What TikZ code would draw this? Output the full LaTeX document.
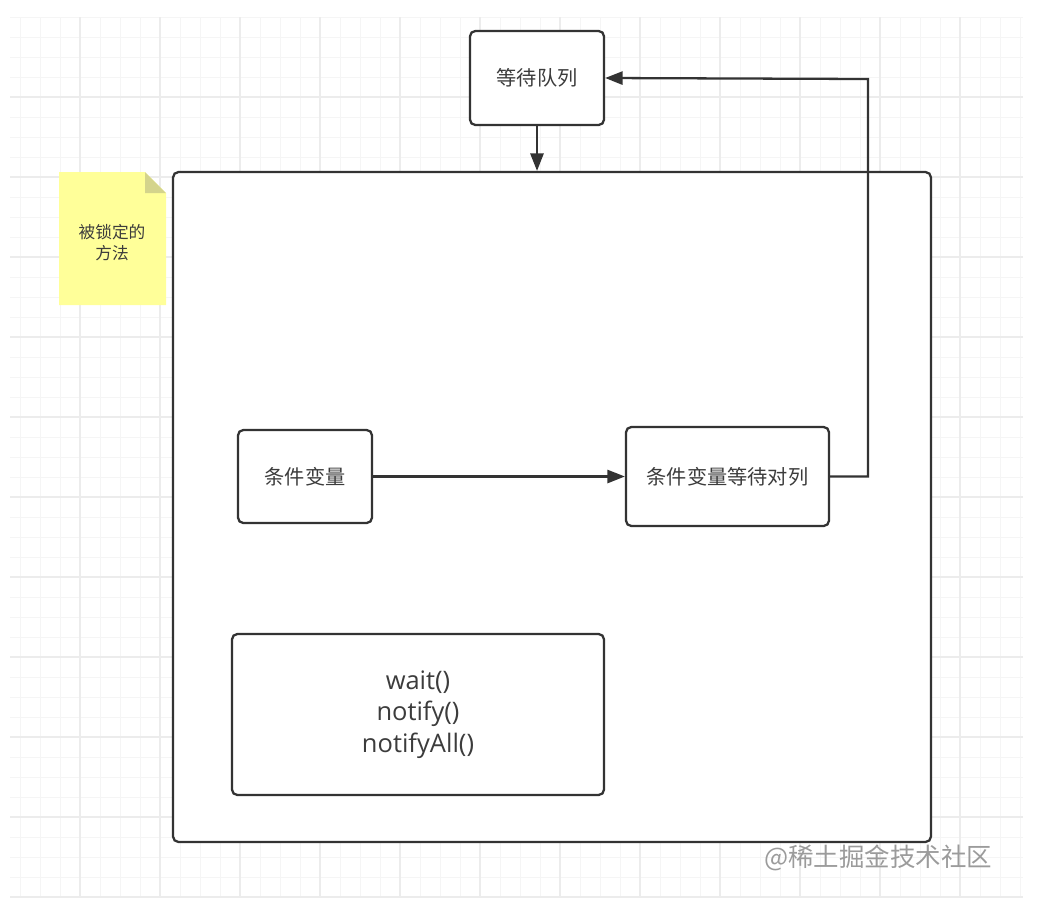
\documentclass[tikz,border=0pt]{standalone}
\usepackage{fontspec}
\setmainfont{Open Sans}
\newfontfamily\cjk{Noto Sans CJK SC}
\usepackage{xcolor}
\usetikzlibrary{arrows.meta}
\definecolor{linegray}{RGB}{51,51,51}
\definecolor{textgray}{RGB}{60,60,60}
\definecolor{gridminor}{RGB}{245,245,245}
\definecolor{gridmajor}{RGB}{236,236,236}
\definecolor{noteyellow}{RGB}{255,255,153}
\definecolor{notefold}{RGB}{212,212,140}
\definecolor{markgray}{RGB}{155,155,155}

\tikzset{
	box/.style={draw=linegray, line width=1.3pt, rounded corners=3pt, fill=white,
		align=center, text=textgray, inner sep=0pt, font=\cjk\fontsize{11.5}{14}\selectfont},
	flow/.style={draw=linegray, line width=1.3pt, -{Triangle[length=10pt,width=7.5pt]}},
}

\begin{document}
\begin{tikzpicture}[x=0.02cm,y=-0.02cm]
				\useasboundingbox (0,0) rectangle (1057,907);
				% grid
				\foreach \x in {20,40,...,1020}{
					\draw[gridminor,line width=0.5pt] (\x,17) -- (\x,897);
				}
				\foreach \y in {17,37,...,897}{
					\draw[gridminor,line width=0.5pt] (10,\y) -- (1023,\y);
				}
				\foreach \x in {80,160,...,960}{
					\draw[gridmajor,line width=0.6pt] (\x,17) -- (\x,897);
				}
				\foreach \y in {97,177,...,897}{
					\draw[gridmajor,line width=0.6pt] (10,\y) -- (1023,\y);
				}
				% note
				\fill[noteyellow] (59,172) -- (145,172) -- (166,193) -- (166,305) -- (59,305) -- cycle;
				\fill[notefold] (145,172) -- (166,193) -- (145,193) -- cycle;
				\node[text=textgray,align=center,font=\cjk\fontsize{9.5}{12}\selectfont] (notetext) at (112,243) {被锁定的\\方法};
				% locked area
				\node[box,minimum width=15.16cm,minimum height=13.4cm] (method) at (552,507) {};
				% boxes
				\node[box,minimum width=2.68cm,minimum height=1.88cm] (queue) at (537,78) {等待队列};
				\node[box,minimum width=2.68cm,minimum height=1.86cm] (cond) at (305,476.5) {条件变量};
				\node[box,minimum width=4.06cm,minimum height=1.98cm] (condq) at (727.5,476.5) {条件变量等待对列};
				\node[box,minimum width=7.44cm,minimum height=3.22cm,
					font=\fontsize{14.5}{18}\selectfont] (calls) at (418,714.5) {wait()\\notify()\\notifyAll()};
				% connectors
				\coordinate (turn) at (868,79);
				\draw[flow] (queue.south) -- (queue.south |- method.north);
				\draw[flow] (cond.east) -- (condq.west);
				\draw[flow] (condq.east) -| (turn) -- (queue.east);
				% watermark
				\node[text=markgray,font=\cjk\fontsize{14.5}{16}\selectfont] (mark) at (878,858) {@稀土掘金技术社区};
\end{tikzpicture}
\end{document}
